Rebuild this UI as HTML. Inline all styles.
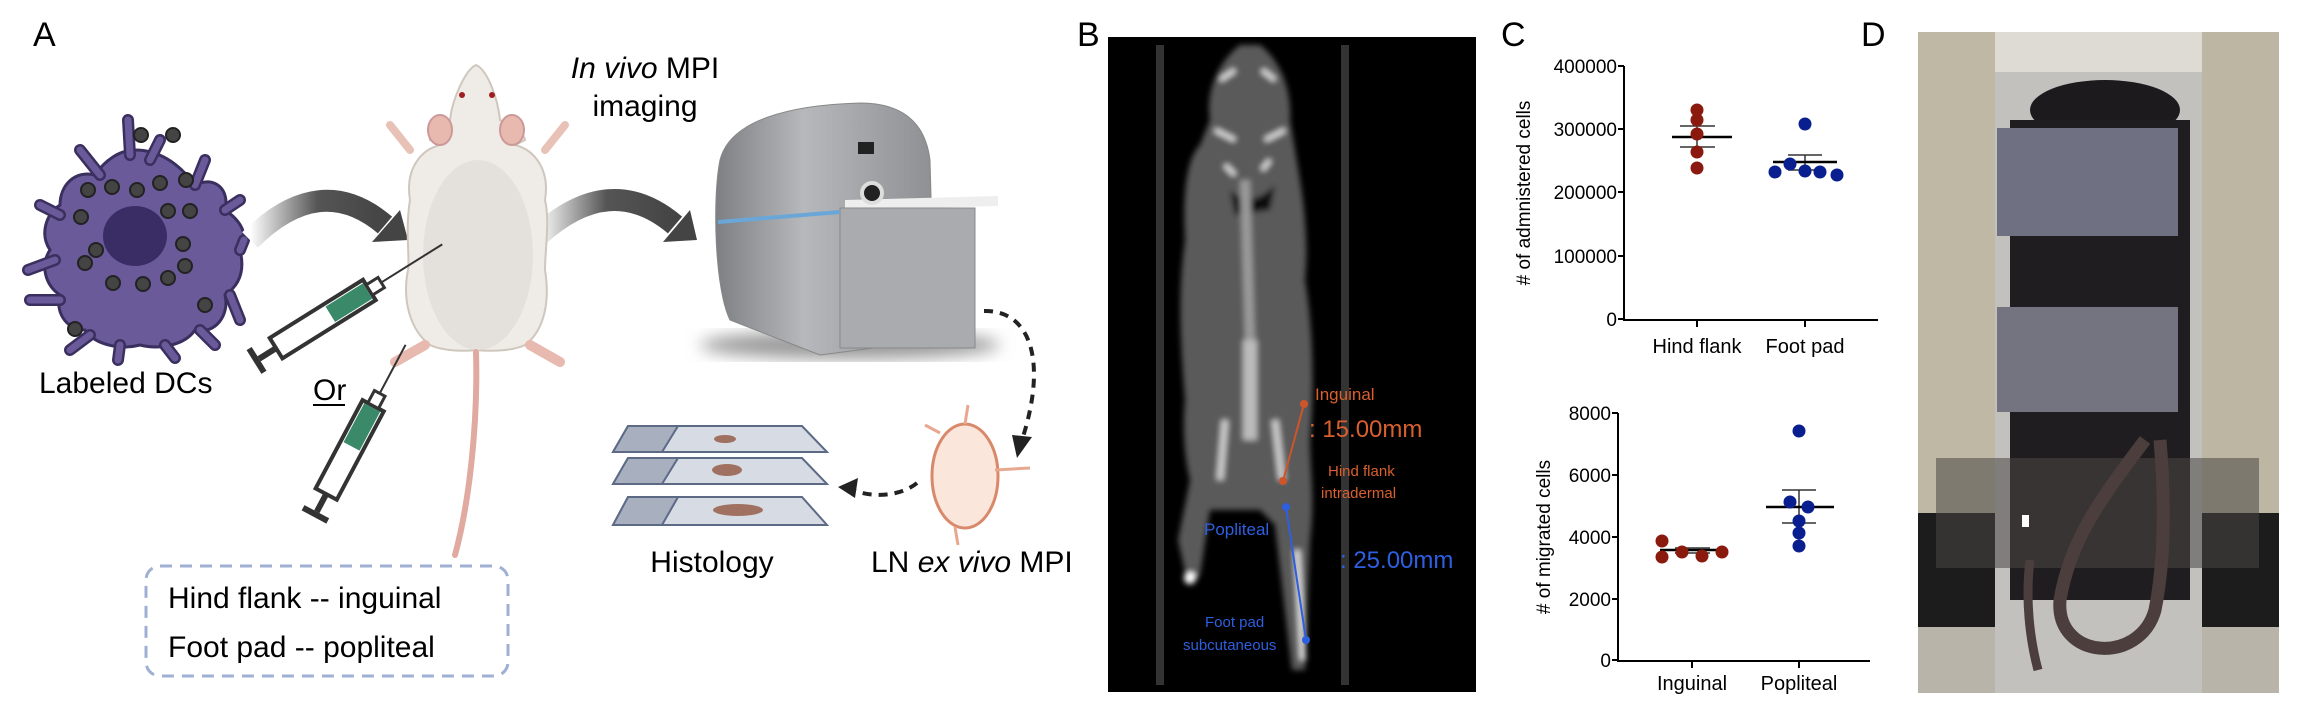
<!DOCTYPE html>
<html><head><meta charset="utf-8"><style>
html,body{margin:0;padding:0;background:#fff;}
svg{display:block;}
text{font-family:"Liberation Sans",sans-serif;}
</style></head><body>
<svg width="2302" height="714" viewBox="0 0 2302 714" xmlns="http://www.w3.org/2000/svg">
<defs>
<linearGradient id="arr" x1="0" y1="0" x2="1" y2="0"><stop offset="0" stop-color="#fff"/><stop offset="0.5" stop-color="#555"/><stop offset="1" stop-color="#444"/></linearGradient>
<linearGradient id="scan" x1="0" y1="0" x2="1" y2="0"><stop offset="0" stop-color="#7d7f83"/><stop offset="0.4" stop-color="#b6b8bb"/><stop offset="1" stop-color="#8d8f93"/></linearGradient>
<filter id="bl"><feGaussianBlur stdDeviation="3"/></filter>
<filter id="bl2"><feGaussianBlur stdDeviation="8"/></filter>
</defs>
<rect width="2302" height="714" fill="#fff"/>
<text x="33" y="46" font-size="34">A</text>
<text x="1077" y="46" font-size="34">B</text>
<text x="1501" y="46" font-size="34">C</text>
<text x="1861" y="46" font-size="34">D</text>

<g fill="#6a5a9a" stroke="#3a2f5e" stroke-width="3">
<path d="M135,150 C160,150 180,165 195,185 C215,175 230,190 225,210 C240,220 250,235 240,250 C245,270 240,285 225,295 C230,315 215,335 195,330 C185,345 160,350 140,345 C120,350 95,345 85,330 C65,330 55,310 60,295 C45,285 40,265 50,250 C40,235 45,215 60,205 C60,185 75,170 95,175 C105,160 120,150 135,150Z"/>
<path d="M130,155 L128,120 M150,160 L160,140 M100,175 L80,150 M60,215 L40,205 M55,260 L28,270 M60,300 L30,300 M90,335 L70,350 M120,345 L118,360 M165,345 L175,358 M200,330 L215,345 M230,295 L240,320 M240,250 L244,240 M225,210 L240,200 M195,185 L205,160" stroke="#3a2f5e" stroke-width="12" stroke-linecap="round"/>
<path d="M130,155 L128,120 M150,160 L160,140 M100,175 L80,150 M60,215 L40,205 M55,260 L28,270 M60,300 L30,300 M90,335 L70,350 M120,345 L118,360 M165,345 L175,358 M200,330 L215,345 M230,295 L240,320 M240,250 L244,240 M225,210 L240,200 M195,185 L205,160" stroke="#6a5a9a" stroke-width="7" stroke-linecap="round"/>
</g>
<ellipse cx="135" cy="236" rx="32" ry="30" fill="#3a2d66"/>
<g fill="#444" stroke="#222" stroke-width="2">
<circle cx="141" cy="135" r="7"/><circle cx="173" cy="135" r="7"/><circle cx="88" cy="190" r="7"/><circle cx="112" cy="187" r="7"/><circle cx="137" cy="190" r="7"/><circle cx="160" cy="183" r="7"/><circle cx="186" cy="180" r="7"/><circle cx="81" cy="217" r="7"/><circle cx="168" cy="211" r="7"/><circle cx="190" cy="211" r="7"/><circle cx="96" cy="250" r="7"/><circle cx="183" cy="244" r="7"/><circle cx="85" cy="263" r="7"/><circle cx="185" cy="266" r="7"/><circle cx="113" cy="283" r="7"/><circle cx="143" cy="284" r="7"/><circle cx="168" cy="278" r="7"/><circle cx="205" cy="305" r="7"/><circle cx="75" cy="329" r="7"/>
</g>
<text x="39" y="393" font-size="30">Labeled DCs</text>

<path d="M250,240 Q320,170 385,225" fill="none" stroke="url(#arr)" stroke-width="22"/>
<polygon points="372,242 408,240 400,210" fill="#444"/>
<path d="M538,236 Q610,170 675,225" fill="none" stroke="url(#arr)" stroke-width="22"/>
<polygon points="663,242 697,240 690,210" fill="#444"/>

<path d="M476,65 C465,70 452,100 450,120 C440,125 428,135 430,140 L440,145 C420,150 405,170 410,200 C405,230 410,260 408,270 C402,300 410,330 430,345 C440,350 460,352 476,350 C495,352 515,350 525,345 C545,330 550,300 545,270 C545,250 550,220 545,200 C550,170 535,150 515,145 L525,140 C525,135 512,125 500,120 C498,100 488,70 476,65Z" fill="#efebe6" stroke="#cfc7bd" stroke-width="2"/>
<ellipse cx="478" cy="255" rx="55" ry="95" fill="#e4e1dd"/>
<ellipse cx="440" cy="130" rx="12" ry="15" fill="#e8b9ae" stroke="#c99" stroke-width="2"/>
<ellipse cx="512" cy="130" rx="12" ry="15" fill="#e8b9ae" stroke="#c99" stroke-width="2"/>
<circle cx="462" cy="95" r="3" fill="#a02020"/><circle cx="492" cy="95" r="3" fill="#a02020"/>
<path d="M410,150 L390,125 M545,150 L565,125" stroke="#e8c2b6" stroke-width="8" stroke-linecap="round"/>
<path d="M425,345 L395,362 M530,345 L560,362" stroke="#e8b9ae" stroke-width="10" stroke-linecap="round"/>
<path d="M476,352 C478,420 470,500 455,555" fill="none" stroke="#e0aaa0" stroke-width="6" stroke-linecap="round"/>
<text x="645" y="78" font-size="30" text-anchor="middle"><tspan font-style="italic">In vivo</tspan> MPI</text>
<text x="645" y="116" font-size="30" text-anchor="middle">imaging</text>

<g transform="translate(254,362) rotate(-32)">
<rect x="0" y="-14" width="6" height="28" fill="#333"/><rect x="6" y="-3" width="20" height="6" fill="#333"/>
<rect x="26" y="-12" width="110" height="24" fill="#fff" stroke="#333" stroke-width="4"/>
<rect x="90" y="-9" width="44" height="18" fill="#3a8a6a"/>
<rect x="136" y="-6" width="14" height="12" fill="#fff" stroke="#333" stroke-width="3"/>
<line x1="150" y1="0" x2="222" y2="0" stroke="#333" stroke-width="2"/>
</g>
<g transform="translate(314,517) rotate(-62)">
<rect x="0" y="-14" width="6" height="28" fill="#333"/><rect x="6" y="-3" width="20" height="6" fill="#333"/>
<rect x="26" y="-12" width="100" height="24" fill="#fff" stroke="#333" stroke-width="4"/>
<rect x="80" y="-9" width="44" height="18" fill="#3a8a6a"/>
<rect x="126" y="-6" width="14" height="12" fill="#fff" stroke="#333" stroke-width="3"/>
<line x1="140" y1="0" x2="195" y2="0" stroke="#333" stroke-width="2"/>
</g>
<text x="313" y="400" font-size="30">Or</text>
<line x1="313" y1="405" x2="345" y2="405" stroke="#000" stroke-width="2"/>

<rect x="146" y="566" width="362" height="110" rx="14" fill="none" stroke="#9fb0d4" stroke-width="3" stroke-dasharray="12,8"/>
<text x="168" y="608" font-size="30">Hind flank -- inguinal</text>
<text x="168" y="657" font-size="30">Foot pad -- popliteal</text>

<ellipse cx="850" cy="345" rx="150" ry="14" fill="#999" filter="url(#bl2)"/>
<path d="M720,160 C730,120 790,105 860,103 C900,103 925,120 930,160 L935,340 L820,355 L730,320 C715,290 712,200 720,160Z" fill="url(#scan)" stroke="#888"/>
<path d="M845,200 L998,196 L998,206 L845,210Z" fill="#eee"/>
<rect x="840" y="208" width="135" height="140" fill="#a9abae" stroke="#888"/>
<line x1="718" y1="222" x2="840" y2="212" stroke="#6aa7d8" stroke-width="4"/>
<circle cx="872" cy="193" r="10" fill="#222" stroke="#ddd" stroke-width="4"/>
<rect x="858" y="142" width="16" height="12" fill="#222"/>

<path d="M984,311 C1030,310 1048,360 1022,440" fill="none" stroke="#222" stroke-width="4" stroke-dasharray="9,7"/>
<polygon points="1012,435 1032,437 1017,458" fill="#222"/>

<ellipse cx="965" cy="476" rx="33" ry="52" fill="#fbe6dc" stroke="#d9896a" stroke-width="3"/>
<path d="M995,470 L1030,468 M940,433 L925,425 M965,424 L968,405 M955,527 L958,545" stroke="#e8a890" stroke-width="3"/>
<path d="M917,483 C905,493 880,500 852,490" fill="none" stroke="#222" stroke-width="4" stroke-dasharray="9,7"/>
<polygon points="838,487 858,478 855,498" fill="#222"/>

<g stroke="#5c6a86" stroke-width="2">
<polygon points="628,426 802,426 827,452 613,452" fill="#d7dbe3"/><polygon points="628,426 678,426 662,452 613,452" fill="#a8b0bf"/>
<polygon points="628,458 802,458 827,484 613,484" fill="#d7dbe3"/><polygon points="628,458 678,458 662,484 613,484" fill="#a8b0bf"/>
<polygon points="628,497 802,497 827,525 613,525" fill="#d7dbe3"/><polygon points="628,497 678,497 662,525 613,525" fill="#a8b0bf"/>
</g>
<ellipse cx="725" cy="439" rx="11" ry="4" fill="#a07060"/>
<ellipse cx="727" cy="470" rx="15" ry="6" fill="#a07060"/>
<ellipse cx="738" cy="510" rx="25" ry="6" fill="#a07060"/>
<text x="712" y="572" font-size="30" text-anchor="middle">Histology</text>
<text x="871" y="572" font-size="30">LN <tspan font-style="italic">ex vivo</tspan> MPI</text>

<!-- Panel B CT -->
<rect x="1108" y="37" width="368" height="655" fill="#000"/>
<rect x="1156" y="45" width="8" height="640" fill="#333"/>
<rect x="1341" y="45" width="8" height="640" fill="#333"/>
<g filter="url(#bl)">
<path d="M1240,45 C1220,60 1205,90 1210,120 L1200,145 C1185,160 1183,200 1185,240 C1178,290 1180,340 1185,400 C1182,430 1185,460 1190,480 L1178,540 L1188,585 L1200,575 L1210,510 L1260,510 L1275,525 L1292,670 L1305,670 L1310,540 C1315,500 1310,470 1310,440 C1315,380 1312,320 1305,280 C1310,230 1300,180 1295,150 L1290,120 C1292,90 1280,60 1260,45Z" fill="#5a5a5a"/>
<path d="M1230,190 C1245,205 1260,200 1275,185 L1270,210 L1235,215Z" fill="#111"/>
<path d="M1245,180 L1250,340" stroke="#9a9a9a" stroke-width="10"/>
<path d="M1250,340 L1250,440" stroke="#bbb" stroke-width="14"/>
<path d="M1225,420 L1220,480 M1275,420 L1282,480" stroke="#ccc" stroke-width="7"/>
<path d="M1220,80 L1235,70 M1275,80 L1262,70 M1215,130 L1235,140 M1285,130 L1265,140 M1225,165 L1235,175 M1270,160 L1262,170" stroke="#ddd" stroke-width="5"/>
<path d="M1297,550 L1303,660" stroke="#ddd" stroke-width="6"/>
<circle cx="1190" cy="578" r="6" fill="#fff"/>
</g>
<path d="M1304,404 L1283,481" stroke="#d0542a" stroke-width="2"/>
<circle cx="1304" cy="404" r="4" fill="#d0542a"/><circle cx="1283" cy="481" r="4" fill="#d0542a"/>
<path d="M1286,507 L1306,640" stroke="#2e5fe0" stroke-width="2"/>
<circle cx="1286" cy="507" r="4" fill="#2e5fe0"/><circle cx="1306" cy="640" r="4" fill="#2e5fe0"/>
<g fill="#d9602e">
<text x="1315" y="400" font-size="17">Inguinal</text>
<text x="1309" y="437" font-size="24">: 15.00mm</text>
<text x="1328" y="476" font-size="15">Hind flank</text>
<text x="1321" y="498" font-size="15">intradermal</text>
</g>
<g fill="#2e5fe0">
<text x="1204" y="535" font-size="17">Popliteal</text>
<text x="1340" y="568" font-size="24">: 25.00mm</text>
<text x="1205" y="627" font-size="15">Foot pad</text>
<text x="1183" y="650" font-size="15">subcutaneous</text>
</g>

<!-- Chart 1 -->
<g stroke="#000" stroke-width="2" fill="none">
<path d="M1624,66 L1624,320 L1878,320"/>
<path d="M1618,66 L1624,66 M1618,129 L1624,129 M1618,192 L1624,192 M1618,256 L1624,256 M1618,319 L1624,319 M1697,320 L1697,327 M1805,320 L1805,327"/>
</g>
<g font-size="19" text-anchor="end">
<text x="1617" y="73">400000</text><text x="1617" y="136">300000</text><text x="1617" y="199">200000</text><text x="1617" y="263">100000</text><text x="1617" y="326">0</text>
</g>
<text transform="translate(1530,193) rotate(-90)" font-size="19" text-anchor="middle"># of admnistered cells</text>
<text x="1697" y="353" font-size="20" text-anchor="middle">Hind flank</text>
<text x="1805" y="353" font-size="20" text-anchor="middle">Foot pad</text>
<g stroke="#333" stroke-width="1.5"><line x1="1680" y1="126" x2="1715" y2="126"/><line x1="1680" y1="147" x2="1715" y2="147"/><line x1="1697" y1="126" x2="1697" y2="147"/>
<line x1="1788" y1="155" x2="1822" y2="155"/><line x1="1788" y1="170" x2="1822" y2="170"/><line x1="1805" y1="155" x2="1805" y2="170"/></g>
<line x1="1672" y1="137" x2="1732" y2="137" stroke="#000" stroke-width="2.5"/>
<line x1="1773" y1="162" x2="1837" y2="162" stroke="#000" stroke-width="2.5"/>
<g fill="#8b1a0e"><circle cx="1697" cy="110" r="6.5"/><circle cx="1697" cy="120" r="6.5"/><circle cx="1697" cy="134" r="6.5"/><circle cx="1697" cy="152" r="6.5"/><circle cx="1697" cy="168" r="6.5"/></g>
<g fill="#0a1f8f"><circle cx="1805" cy="124" r="6.5"/><circle cx="1790" cy="164" r="6.5"/><circle cx="1775" cy="172" r="6.5"/><circle cx="1805" cy="171" r="6.5"/><circle cx="1820" cy="172" r="6.5"/><circle cx="1837" cy="175" r="6.5"/></g>

<!-- Chart 2 -->
<g stroke="#000" stroke-width="2" fill="none">
<path d="M1618,413 L1618,661 L1870,661"/>
<path d="M1612,413 L1618,413 M1612,475 L1618,475 M1612,537 L1618,537 M1612,599 L1618,599 M1612,660 L1618,660 M1692,661 L1692,668 M1799,661 L1799,668"/>
</g>
<g font-size="19" text-anchor="end">
<text x="1611" y="420">8000</text><text x="1611" y="482">6000</text><text x="1611" y="544">4000</text><text x="1611" y="606">2000</text><text x="1611" y="667">0</text>
</g>
<text transform="translate(1550,537) rotate(-90)" font-size="19" text-anchor="middle"># of migrated cells</text>
<text x="1692" y="690" font-size="20" text-anchor="middle">Inguinal</text>
<text x="1799" y="690" font-size="20" text-anchor="middle">Popliteal</text>
<g stroke="#333" stroke-width="1.5"><line x1="1675" y1="548" x2="1710" y2="548"/><line x1="1675" y1="553" x2="1710" y2="553"/>
<line x1="1782" y1="490" x2="1816" y2="490"/><line x1="1782" y1="523" x2="1816" y2="523"/><line x1="1799" y1="490" x2="1799" y2="523"/></g>
<line x1="1660" y1="550" x2="1725" y2="550" stroke="#000" stroke-width="2.5"/>
<line x1="1766" y1="507" x2="1834" y2="507" stroke="#000" stroke-width="2.5"/>
<g fill="#8b1a0e"><circle cx="1662" cy="541" r="6.5"/><circle cx="1662" cy="557" r="6.5"/><circle cx="1682" cy="552" r="6.5"/><circle cx="1702" cy="556" r="6.5"/><circle cx="1722" cy="552" r="6.5"/></g>
<g fill="#0a1f8f"><circle cx="1799" cy="431" r="6.5"/><circle cx="1790" cy="502" r="6.5"/><circle cx="1808" cy="507" r="6.5"/><circle cx="1799" cy="521" r="6.5"/><circle cx="1799" cy="533" r="6.5"/><circle cx="1799" cy="546" r="6.5"/></g>

<!-- Panel D photo -->
<rect x="1918" y="32" width="361" height="661" fill="#c6bfac"/>
<rect x="1918" y="32" width="78" height="661" fill="#bfb8a4"/>
<rect x="2200" y="32" width="79" height="661" fill="#bdb6a2"/>
<rect x="1918" y="513" width="361" height="114" fill="#1c1c1c"/>
<rect x="1918" y="627" width="361" height="66" fill="#b8b4aa"/>
<rect x="1995" y="69" width="207" height="624" fill="#c2c1bd"/>
<rect x="1995" y="32" width="207" height="40" fill="#dddbd4"/>
<ellipse cx="2105" cy="110" rx="75" ry="30" fill="#1c1a1c"/>
<rect x="2010" y="120" width="180" height="480" fill="#1f1d20"/>
<rect x="1997" y="128" width="181" height="108" fill="#6f7182"/>
<rect x="1997" y="307" width="181" height="105" fill="#73747f"/>
<rect x="1936" y="458" width="323" height="110" fill="#4a4744" opacity="0.55"/>
<path d="M2145,440 C2100,500 2070,540 2060,600 C2055,660 2140,665 2155,610 C2165,560 2165,500 2160,440" fill="none" stroke="#4b3e3d" stroke-width="13"/>
<path d="M2030,560 C2025,600 2030,640 2038,670" fill="none" stroke="#4b3e3d" stroke-width="9"/>
<rect x="2022" y="515" width="7" height="12" fill="#fff"/>
</svg>
</body></html>
